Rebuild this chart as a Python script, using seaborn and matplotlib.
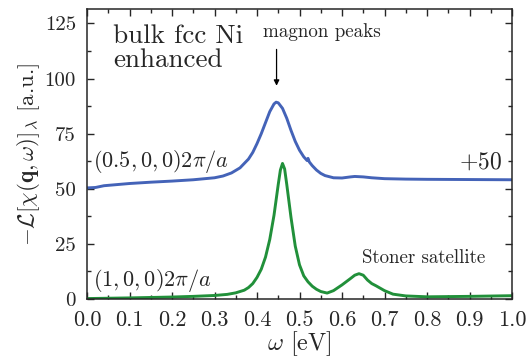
import matplotlib
matplotlib.use('Agg')
import matplotlib.pyplot as plt
import pandas as pd
import seaborn as sns

# values (blue curve already shifted by +50)
omega_q05 = [0.0, 0.02, 0.04, 0.1, 0.15, 0.2, 0.25, 0.3, 0.32, 0.34, 0.36, 0.38, 0.39, 0.4, 0.41,
             0.42, 0.43, 0.44, 0.445, 0.45, 0.46, 0.47, 0.48, 0.49, 0.5, 0.51, 0.518, 0.52, 0.523,
             0.53, 0.54, 0.55, 0.56, 0.58, 0.6, 0.62, 0.63, 0.65, 0.67, 0.7, 0.75, 0.8, 0.9, 1.0]
chi_q05 = [50.4, 50.6, 51.4, 52.4, 53.0, 53.5, 54.1, 55.0, 55.8, 57.2, 59.5, 63.5, 66.5, 70.5, 75.0,
           80.0, 85.0, 88.5, 89.3, 89.0, 86.5, 82.0, 76.5, 71.5, 67.5, 64.5, 62.8, 63.8, 62.2,
           60.5, 58.5, 57.0, 56.0, 55.0, 54.9, 55.4, 55.6, 55.4, 55.0, 54.6, 54.4, 54.3, 54.2, 54.1]

omega_q1 = [0.0, 0.1, 0.2, 0.25, 0.3, 0.33, 0.35, 0.37, 0.38, 0.39, 0.4, 0.41, 0.42, 0.43, 0.44,
            0.45, 0.455, 0.46, 0.465, 0.47, 0.48, 0.49, 0.5, 0.51, 0.52, 0.53, 0.54, 0.55, 0.565,
            0.58, 0.6, 0.62, 0.63, 0.64, 0.65, 0.66, 0.67, 0.68, 0.7, 0.72, 0.75, 0.8, 0.9, 1.0]
chi_q1 = [0.2, 0.5, 0.9, 1.2, 1.6, 2.1, 2.8, 4.0, 5.2, 7.0, 9.8, 13.5, 19.0, 27.0, 38.0,
          52.0, 58.5, 61.5, 59.0, 52.0, 37.0, 24.0, 15.5, 10.5, 7.8, 5.8, 4.4, 3.4, 2.7,
          3.8, 6.4, 9.3, 10.8, 11.5, 10.8, 8.6, 7.0, 6.0, 3.8, 2.2, 1.4, 1.0, 1.2, 1.5]

xticks = [0.0, 0.1, 0.2, 0.3, 0.4, 0.5, 0.6, 0.7, 0.8, 0.9, 1.0]
yticks = [0, 25, 50, 75, 100, 125]

df_a = pd.DataFrame({'omega': omega_q05, 'chi': chi_q05})
df_b = pd.DataFrame({'omega': omega_q1, 'chi': chi_q1})

sns.set_style('ticks')
plt.rcParams['font.family'] = 'serif'
plt.rcParams['font.serif'] = ['cmr10']
plt.rcParams['mathtext.fontset'] = 'cm'
plt.rcParams['axes.formatter.use_mathtext'] = True

fig = plt.figure(figsize=(5.26, 3.59), dpi=100)
ax = fig.add_axes([0.1654, 0.1671, 0.808, 0.808])

sns.lineplot(data=df_a, x='omega', y='chi', color='#4463b8', lw=2.1, ax=ax)
sns.lineplot(data=df_b, x='omega', y='chi', color='#21903a', lw=2.1, ax=ax)

ax.set_xlim(0, 1.0)
ax.set_ylim(0, 131.6)
ax.set_xticks(xticks)
ax.set_xticklabels([f'{t:.1f}' for t in xticks])
ax.set_yticks(yticks)
ax.set_yticklabels([str(t) for t in yticks])
ax.set_xticks([0.05 + 0.1 * i for i in range(10)], minor=True)
ax.set_yticks([12.5 + 25 * i for i in range(5)], minor=True)
ax.tick_params(which='both', direction='in', top=True, right=True)
ax.tick_params(axis='x', which='both', pad=8, labelsize=16)
ax.tick_params(axis='y', which='both', pad=8, labelsize=15)
ax.tick_params(which='major', length=5, width=1)
ax.tick_params(which='minor', length=3, width=1)
for s in ax.spines.values():
    s.set_linewidth(1.1)

ax.set_xlabel(r'$\omega$ [eV]', fontsize=17.5, labelpad=0)
ax.set_ylabel(r'$-\mathcal{L}[\chi(\mathbf{q},\omega)]_\lambda$ [a.u.]', fontsize=16.5, labelpad=2)

ax.text(0.061, 124.5, 'bulk fcc Ni\nenhanced', fontsize=19.5, va='top', ha='left', linespacing=1.0)
ax.text(0.553, 121, 'magnon peaks', fontsize=13.7, va='center', ha='center')
ax.annotate('', xy=(0.446, 95.5), xytext=(0.446, 114.5),
            arrowprops=dict(arrowstyle='-|>', color='black', lw=0.9, mutation_scale=8))
ax.text(0.013, 62.5, r'$(0.5,0,0)2\pi/a$', fontsize=16, va='center', ha='left')
ax.text(0.977, 62, r'$+50$', fontsize=17, va='center', ha='right')
ax.text(0.013, 8.3, r'$(1,0,0)2\pi/a$', fontsize=16, va='center', ha='left')
ax.text(0.793, 18.5, 'Stoner satellite', fontsize=13.6, va='center', ha='center')

fig.savefig('out.png', dpi=100)
